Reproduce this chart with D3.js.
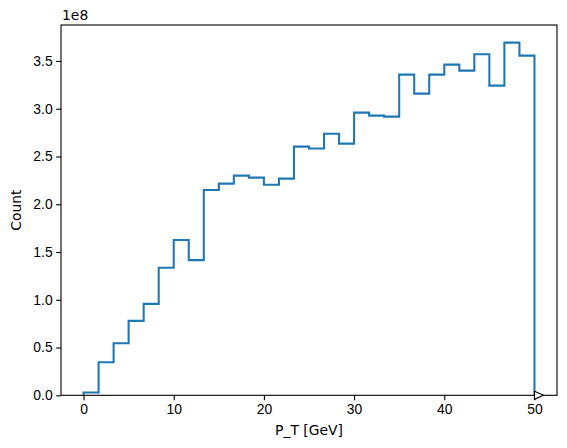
<!DOCTYPE html>
<html>
<head>
<meta charset="utf-8">
<script src="https://cdn.jsdelivr.net/npm/d3@7"></script>
<style>
  body { margin: 0; background: #fff; }
  svg { display: block; font-family: "DejaVu Sans", sans-serif; }
</style>
</head>
<body>
<svg id="chart" width="567" height="448"></svg>
<script>
"use strict";

// histogram: 30 bins between 0 and 50 GeV
const bin_lo = 0
const bin_hi = 50
const counts = [
   0.03e8, 0.346e8, 0.545e8, 0.779e8, 0.957e8, 1.335e8, 1.625e8, 1.415e8,
   2.150e8, 2.216e8, 2.300e8, 2.279e8, 2.205e8, 2.268e8, 2.603e8, 2.583e8,
   2.739e8, 2.635e8, 2.959e8, 2.928e8, 2.917e8, 3.357e8, 3.158e8, 3.357e8,
   3.462e8, 3.399e8, 3.570e8, 3.242e8, 3.692e8, 3.556e8
]
const x_ticks = [0, 10, 20, 30, 40, 50]
const y_ticks = [0, 0.5e8, 1.0e8, 1.5e8, 2.0e8, 2.5e8, 3.0e8, 3.5e8]

const ax_left = 61, ax_right = 557, ax_top = 25, ax_bottom = 395.3
const fs = 13.9

const edges = d3.range(counts.length + 1).map(i => bin_lo + (bin_hi - bin_lo) * i / counts.length)
const pad_x = (bin_hi - bin_lo) * 0.05

const x = d3.scaleLinear()
   .domain([bin_lo - pad_x, bin_hi + pad_x])
   .range([ax_left, ax_right])
const y = d3.scaleLinear()
   .domain([0, d3.max(counts) * 1.05])
   .range([ax_bottom, ax_top])

let svg = d3.select('#chart')

// step outline
let pts = [[edges[0], 0]]
counts.forEach((c, i) => {
   pts.push([edges[i], c])
   pts.push([edges[i + 1], c])
})
pts.push([edges[counts.length], 0])

svg.append('path')
   .datum(pts)
   .attr('fill', 'none')
   .attr('stroke', '#1f77b4')
   .attr('stroke-width', 2.08)
   .attr('stroke-linejoin', 'miter')
   .attr('d', d3.line().x(d => x(d[0])).y(d => y(d[1])))

// axes
let xa = svg.append('g')
   .attr('transform', `translate(0,${ax_bottom})`)
   .call(d3.axisBottom(x).tickValues(x_ticks).tickSize(4.86).tickPadding(3.5).tickFormat(d3.format('d')))
let ya = svg.append('g')
   .attr('transform', `translate(${ax_left},0)`)
   .call(d3.axisLeft(y).tickValues(y_ticks).tickSize(4.86).tickPadding(3.5).tickFormat(d => (d / 1e8).toFixed(1)))
for (let a of [xa, ya]) {
   a.select('.domain').remove()
   a.selectAll('line').attr('stroke', '#000').attr('stroke-width', 1.1)
   a.selectAll('text').attr('fill', '#000').style('font-size', fs + 'px')
}

// frame
svg.append('rect')
   .attr('x', ax_left).attr('y', ax_top)
   .attr('width', ax_right - ax_left).attr('height', ax_bottom - ax_top)
   .attr('fill', 'none')
   .attr('stroke', '#000')
   .attr('stroke-width', 1.1)

// overflow marker
const mx = x(bin_hi)
svg.append('path')
   .attr('d', `M${mx},${ax_bottom - 4}L${mx + 9},${ax_bottom}L${mx},${ax_bottom + 4}Z`)
   .attr('fill', '#fff')
   .attr('stroke', '#000')
   .attr('stroke-width', 1.1)

svg.append('text')
   .attr('x', ax_left + 1)
   .attr('y', ax_top - 5)
   .style('font-size', fs + 'px')
   .text('1e8')

svg.append('text')
   .attr('x', (ax_left + ax_right) / 2)
   .attr('y', 435)
   .attr('text-anchor', 'middle')
   .style('font-size', fs + 'px')
   .text('P_T [GeV]')

svg.append('text')
   .attr('transform', `translate(21,${(ax_top + ax_bottom) / 2}) rotate(-90)`)
   .attr('text-anchor', 'middle')
   .style('font-size', fs + 'px')
   .text('Count')
</script>
</body>
</html>
